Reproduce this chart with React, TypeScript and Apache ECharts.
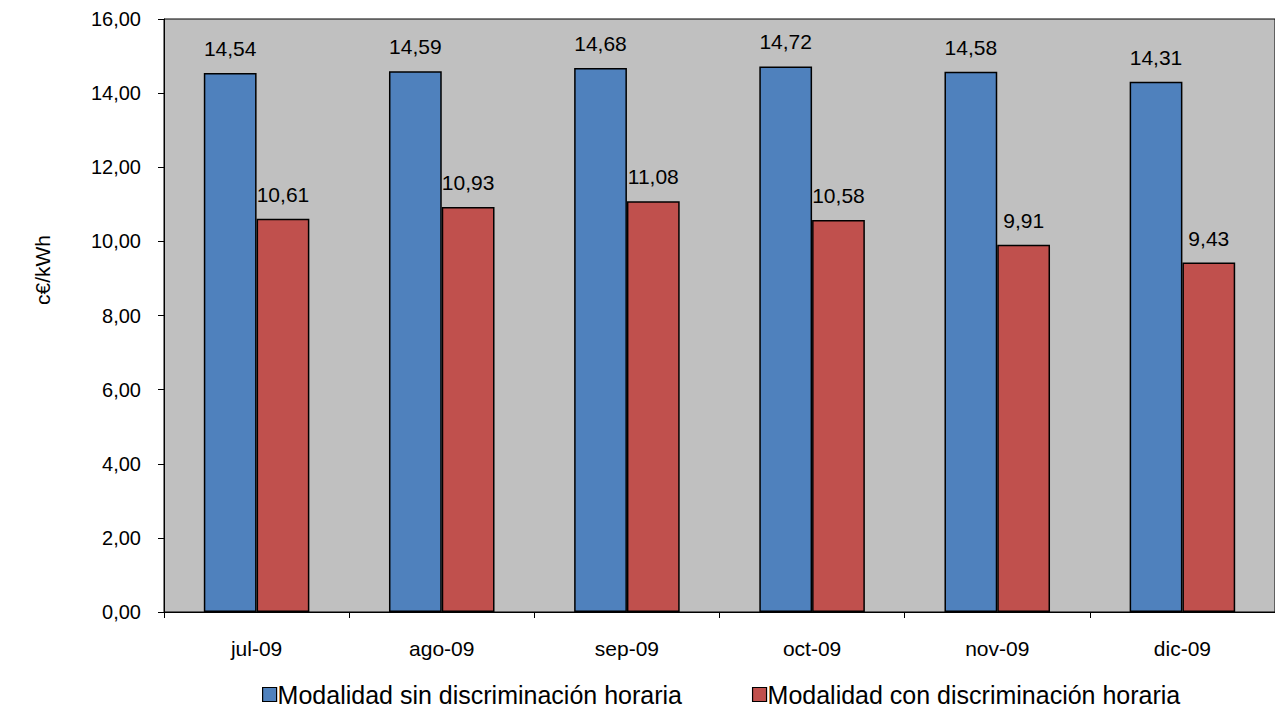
import React, { useEffect, useRef } from "react";
import * as echarts from "echarts";

const categories = ["jul-09", "ago-09", "sep-09", "oct-09", "nov-09", "dic-09"];
const sinDiscriminacion = [14.54, 14.59, 14.68, 14.72, 14.58, 14.31];
const conDiscriminacion = [10.61, 10.93, 11.08, 10.58, 9.91, 9.43];
const seriesNames = ["Modalidad sin discriminación horaria", "Modalidad con discriminación horaria"];

const fmt = (v: number) => v.toFixed(2).replace(".", ",");

export default function App() {
  const ref = useRef<HTMLDivElement>(null);
  useEffect(() => {
    if (!ref.current) return;
    const chart = echarts.init(ref.current, null, { renderer: "svg" });
    const font = "'Liberation Sans', Arial, sans-serif";
    const labelCfg = {
      show: true,
      position: "top" as const,
      distance: 14,
      color: "#000",
      fontFamily: font,
      fontSize: 21,
      formatter: (p: any) => fmt(p.value),
    };
    chart.setOption({
      animation: false,
      backgroundColor: "#fff",
      textStyle: { fontFamily: font },
      grid: {
        left: 164,
        right: 0,
        top: 19,
        bottom: 97,
        show: true,
        backgroundColor: "#C0C0C0",
        borderColor: "#000",
        borderWidth: 1,
      },
      graphic: [
        {
          type: "text",
          x: 42,
          y: 270,
          rotation: Math.PI / 2,
          style: {
            text: "c€/kWh",
            fill: "#000",
            font: `21px ${font}`,
            align: "center",
            verticalAlign: "middle",
          },
        },
      ],
      legend: {
        data: seriesNames,
        left: 262,
        top: 682,
        padding: 0,
        itemWidth: 14,
        itemHeight: 14,
        itemGap: 70,
        icon: "rect",
        textStyle: {
          fontFamily: font,
          fontSize: 25,
          lineHeight: 25,
          color: "#000",
          padding: [0, 0, 0, -4],
        },
        itemStyle: { borderColor: "#000", borderWidth: 1.2 },
      },
      xAxis: {
        type: "category",
        data: categories,
        axisLine: { lineStyle: { color: "#000", width: 1 } },
        axisTick: { show: true, alignWithLabel: false, length: 6, lineStyle: { color: "#000" } },
        axisLabel: { color: "#000", fontSize: 21, fontFamily: font, margin: 26 },
      },
      yAxis: {
        type: "value",
        min: 0,
        max: 16,
        interval: 2,
        axisLine: { show: true, lineStyle: { color: "#000", width: 1 } },
        axisTick: { show: true, length: 6, lineStyle: { color: "#000" } },
        splitLine: { show: false },
        axisLabel: { color: "#000", fontSize: 20, fontFamily: font, margin: 23, formatter: (v: number) => fmt(v) },
      },
      series: [
        {
          name: seriesNames[0],
          type: "bar",
          data: sinDiscriminacion,
          barGap: "0%",
          barCategoryGap: "43%",
          itemStyle: { color: "#4F81BD", borderColor: "#000", borderWidth: 1.5 },
          label: labelCfg,
        },
        {
          name: seriesNames[1],
          type: "bar",
          data: conDiscriminacion,
          itemStyle: { color: "#C0504D", borderColor: "#000", borderWidth: 1.5 },
          label: labelCfg,
        },
      ],
    });
    return () => chart.dispose();
  }, []);
  return (
    <div
      ref={ref}
      style={{ position: "absolute", left: 0, top: 0, width: 1275, height: 709 }}
    />
  );
}
